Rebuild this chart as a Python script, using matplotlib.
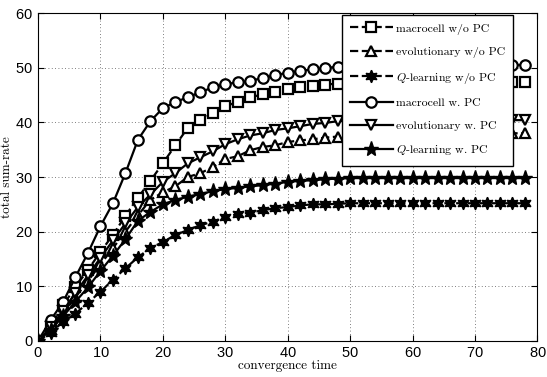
import matplotlib
matplotlib.use('Agg')
import matplotlib.pyplot as plt
import numpy as np

plt.rcParams['mathtext.fontset'] = 'cm'
plt.rcParams['axes.formatter.use_mathtext'] = True

# convergence time (markers every 2 steps)
t = list(range(0, 80, 2))

macro_nopc = [0, 2.8, 6.5, 9.9, 13.0, 16.3, 19.4, 22.9, 26.2, 29.3,
              32.5, 35.8, 39.0, 40.4, 41.7, 42.9, 43.8, 44.6, 45.1, 45.5,
              46.1, 46.4, 46.6, 46.9, 47.1, 47.2, 47.2, 47.2, 47.3, 47.3,
              47.3, 47.3, 47.3, 47.3, 47.3, 47.3, 47.3, 47.3, 47.3, 47.3]
evo_nopc = [0, 2.2, 5.0, 8.0, 11.0, 14.0, 17.0, 20.0, 23.0, 25.8,
            27.2, 28.3, 30.0, 30.7, 31.8, 33.3, 33.8, 34.9, 35.5, 35.8,
            36.4, 36.7, 36.9, 37.2, 37.4, 37.5, 37.6, 37.7, 37.8, 37.8,
            37.9, 37.9, 38.0, 38.0, 38.0, 38.0, 38.0, 38.0, 38.0, 38.0]
q_nopc = [0, 1.5, 3.5, 5.0, 7.0, 9.0, 11.2, 13.3, 15.3, 17.0,
          18.1, 19.4, 20.3, 21.2, 21.8, 22.7, 23.2, 23.5, 23.9, 24.3,
          24.5, 24.8, 25.0, 25.0, 25.1, 25.2, 25.2, 25.2, 25.2, 25.2,
          25.2, 25.2, 25.2, 25.2, 25.2, 25.2, 25.2, 25.2, 25.2, 25.2]
macro_pc = [0, 3.8, 7.1, 11.7, 16.1, 21.0, 25.2, 30.7, 36.8, 40.2,
            42.6, 43.7, 44.6, 45.5, 46.4, 47.0, 47.3, 47.6, 48.1, 48.6,
            49.1, 49.4, 49.7, 49.9, 50.2, 50.3, 50.4, 50.4, 50.5, 50.5,
            50.5, 50.5, 50.5, 50.5, 50.5, 50.5, 50.5, 50.5, 50.5, 50.5]
evo_pc = [0, 2.5, 5.5, 8.8, 12.0, 15.2, 18.4, 21.5, 24.5, 26.8,
          29.1, 30.7, 32.5, 33.6, 34.7, 36.0, 36.9, 37.6, 38.0, 38.6,
          38.9, 39.3, 39.7, 39.9, 40.2, 40.3, 40.3, 40.4, 40.4, 40.4,
          40.4, 40.4, 40.4, 40.4, 40.4, 40.4, 40.4, 40.4, 40.4, 40.4]
q_pc = [0, 2.0, 4.5, 7.2, 9.8, 12.8, 15.6, 18.6, 22.0, 23.6,
        25.0, 25.8, 26.4, 26.9, 27.4, 27.8, 28.0, 28.3, 28.5, 28.8,
        29.1, 29.3, 29.4, 29.6, 29.7, 29.8, 29.8, 29.8, 29.8, 29.8,
        29.8, 29.8, 29.8, 29.8, 29.8, 29.8, 29.8, 29.8, 29.8, 29.8]

labels = ['macrocell w/o PC', 'evolutionary w/o PC', '$Q$-learning w/o PC',
          'macrocell w. PC', 'evolutionary w. PC', '$Q$-learning w. PC']

fig = plt.figure(figsize=(5.47, 3.77), dpi=100)
ax = fig.add_axes([0.0695, 0.0955, 0.913, 0.87])

kw = dict(color='black', linewidth=1.6, markersize=7.5, markeredgewidth=1.6,
          markeredgecolor='black')
ax.plot(t, macro_nopc, '--', marker='s', markerfacecolor='white', label=labels[0], **kw)
ax.plot(t, evo_nopc, '--', marker='^', markerfacecolor='white', label=labels[1], **kw)
ax.plot(t, q_nopc, '--', marker=(6, 1, 0), markerfacecolor='black', label=labels[2],
        color='black', linewidth=1.6, markersize=9, markeredgewidth=1.0)
ax.plot(t, macro_pc, '-', marker='o', markerfacecolor='white', label=labels[3], **kw)
ax.plot(t, evo_pc, '-', marker='v', markerfacecolor='white', label=labels[4], **kw)
ax.plot(t, q_pc, '-', marker='*', markerfacecolor='black', label=labels[5],
        color='black', linewidth=1.6, markersize=11, markeredgewidth=1.0)

ax.set_xlim(0, 80)
ax.set_ylim(0, 60)
ax.set_xticks(range(0, 81, 10))
ax.set_yticks(range(0, 61, 10))
ax.tick_params(direction='in', top=True, right=True, labelsize=10.5, length=4)
for lab in ax.get_xticklabels() + ax.get_yticklabels():
    lab.set_family('Liberation Sans')
ax.grid(True, linestyle=(0, (1, 3)), color='#555555', linewidth=0.6)

ax.set_xlabel('convergence time', family='cmr10', fontsize=9.5, labelpad=0)
ax.set_ylabel('total sum-rate', family='cmr10', fontsize=9.5)
ax.yaxis.set_label_coords(-0.05, 0.5)

leg = ax.legend(loc='upper right', bbox_to_anchor=(0.952, 0.994), borderaxespad=0,
                prop={'family': 'cmr10', 'size': 8.5},
                fancybox=False, framealpha=1, edgecolor='black',
                labelspacing=1.05, handlelength=3.6, handletextpad=0.3, borderpad=0.7)
leg.get_frame().set_linewidth(1.0)

plt.savefig('out.png', dpi=100)
